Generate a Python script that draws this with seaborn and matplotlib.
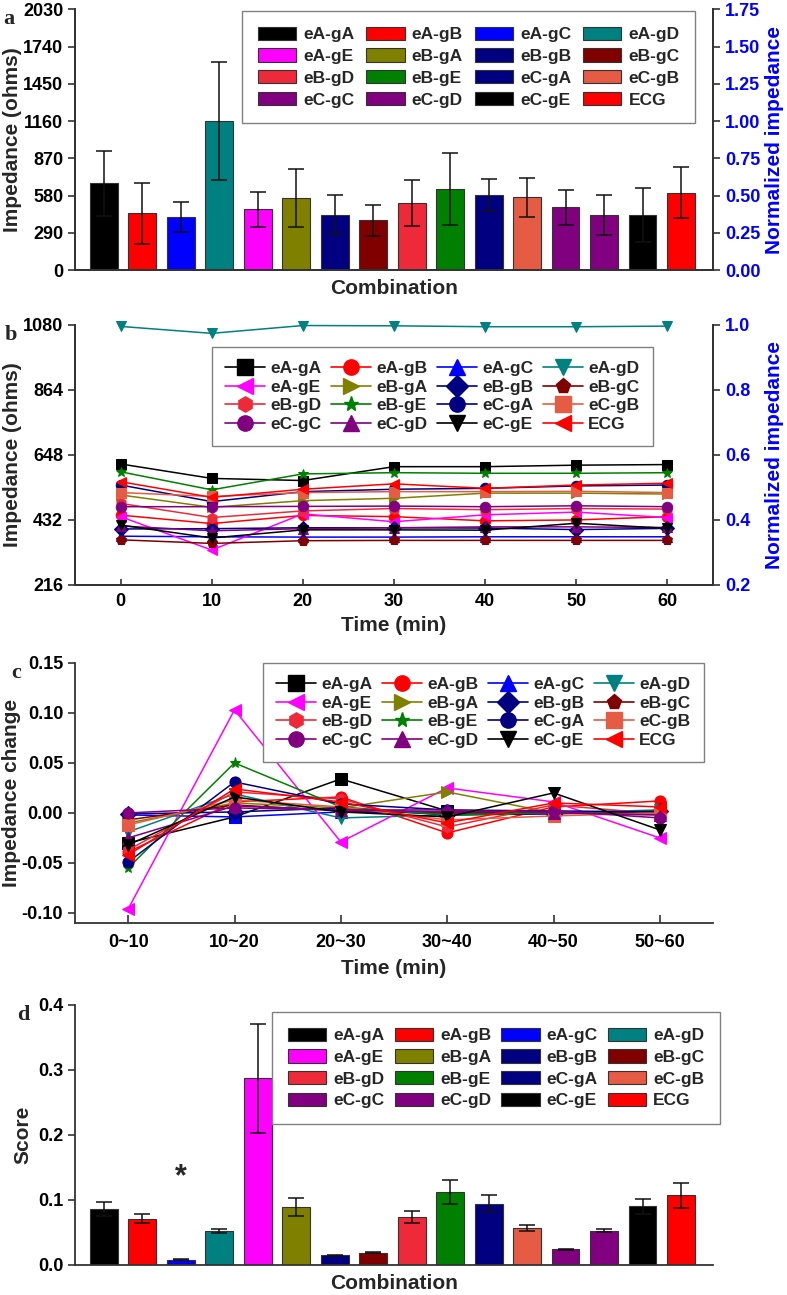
import numpy as np
import pandas as pd
import matplotlib
matplotlib.use("Agg")
import matplotlib.pyplot as plt
from matplotlib.patches import Patch
from matplotlib.lines import Line2D
import seaborn as sns

# ---- data -------------------------------------------------------------
combos = ["eA-gA", "eA-gB", "eA-gC", "eA-gD", "eA-gE", "eB-gA", "eB-gB", "eB-gC",
          "eB-gD", "eB-gE", "eC-gA", "eC-gB", "eC-gC", "eC-gD", "eC-gE", "ECG"]
colors = ["#000000", "#FF0000", "#0000FF", "#008080", "#FF00FF", "#808000", "#000080", "#800000",
          "#EE2A3A", "#008000", "#000080", "#E55B43", "#800080", "#800080", "#000000", "#FF0000"]
markers = ["s", "o", "^", "v", "<", ">", "D", "p", "h", "*", "o", "s", "o", "^", "v", "<"]

# (a) mean impedance and SD
imp_mean = [675, 441, 413, 1163, 472, 561, 431, 387, 524, 633, 582, 566, 488, 431, 428, 602]
imp_err = [254, 239, 120, 460, 139, 228, 150, 120, 179, 280, 125, 150, 135, 155, 208, 200]

# (b) impedance over time
times = [0, 10, 20, 30, 40, 50, 60]
imp_time = [
    [618, 570, 563, 609, 609, 614, 616],
    [448, 420, 447, 443, 429, 432, 443],
    [378, 376, 375, 375, 376, 376, 376],
    [1075, 1052, 1078, 1077, 1074, 1074, 1076],
    [443, 332, 452, 426, 449, 458, 440],
    [515, 474, 496, 504, 521, 521, 518],
    [402, 403, 406, 406, 405, 400, 404],
    [366, 354, 363, 364, 364, 364, 364],
    [487, 440, 462, 470, 466, 470, 468],
    [592, 532, 585, 589, 587, 587, 589],
    [548, 493, 526, 534, 537, 545, 548],
    [523, 510, 523, 526, 526, 527, 523],
    [476, 476, 477, 478, 476, 479, 476],
    [412, 396, 403, 406, 409, 409, 407],
    [415, 372, 399, 399, 398, 421, 404],
    [559, 507, 534, 552, 537, 548, 554],
]

# (c) impedance change per interval
intervals = ["0~10", "10~20", "20~30", "30~40", "40~50", "50~60"]
imp_change = [
    [-0.030, -0.004, 0.034, 0.002, 0.001, 0.000],
    [-0.039, 0.011, 0.016, -0.020, 0.006, 0.012],
    [-0.002, -0.004, 0.001, 0.000, 0.000, 0.000],
    [-0.019, 0.019, -0.005, -0.002, 0.000, 0.003],
    [-0.096, 0.103, -0.029, 0.025, 0.011, -0.025],
    [-0.010, 0.010, 0.005, 0.021, 0.000, -0.002],
    [-0.001, 0.001, 0.005, -0.002, -0.001, 0.002],
    [-0.007, 0.008, 0.002, 0.000, 0.000, 0.000],
    [-0.037, 0.021, 0.014, -0.014, 0.008, -0.001],
    [-0.055, 0.050, 0.006, -0.002, 0.000, 0.002],
    [-0.049, 0.031, 0.009, 0.003, 0.002, 0.001],
    [-0.012, 0.013, 0.006, -0.007, -0.003, 0.000],
    [0.000, 0.005, 0.003, 0.001, 0.002, -0.005],
    [-0.025, 0.007, 0.003, 0.003, 0.000, -0.002],
    [-0.032, 0.016, 0.001, -0.004, 0.020, -0.017],
    [-0.042, 0.024, 0.011, -0.010, 0.010, 0.006],
]

# (d) score
score_mean = [0.086, 0.071, 0.008, 0.052, 0.287, 0.089, 0.015, 0.019,
              0.074, 0.112, 0.094, 0.057, 0.024, 0.053, 0.090, 0.107]
score_err = [0.011, 0.007, 0.001, 0.003, 0.084, 0.014, 0.001, 0.001,
             0.009, 0.018, 0.013, 0.004, 0.001, 0.003, 0.012, 0.019]

# ---- style ------------------------------------------------------------
sns.set_style("ticks")
plt.rcParams["font.family"] = ["Liberation Sans", "DejaVu Sans"]
plt.rcParams["font.weight"] = "bold"
plt.rcParams["axes.labelweight"] = "bold"
plt.rcParams["axes.edgecolor"] = "#333333"
plt.rcParams["axes.linewidth"] = 1.3
plt.rcParams["xtick.color"] = "#333333"
plt.rcParams["ytick.color"] = "#333333"
plt.rcParams["xtick.labelcolor"] = "black"
plt.rcParams["ytick.labelcolor"] = "black"

pal = dict(zip(combos, colors))
mk = dict(zip(combos, markers))
TICK_FS = 13
LABEL_FS = 15
LEG_FS = 12.5
BLUE = "#0000FF"


def row_major(items, ncol=4):
    nrow = int(np.ceil(len(items) / ncol))
    return [items[r * ncol + c] for c in range(ncol) for r in range(nrow)]


def style_legend(leg):
    fr = leg.get_frame()
    fr.set_edgecolor("#808080")
    fr.set_linewidth(1.0)
    fr.set_boxstyle("square", pad=0)


fig = plt.figure(figsize=(7.87, 12.95), dpi=100)
L, W = 0.0953, 0.8107
ax_a = fig.add_axes([L, 0.7915, W, 0.2012])
ax_b = fig.add_axes([L, 0.5483, W, 0.2008])
ax_c = fig.add_axes([L, 0.2873, W, 0.2008])
ax_d = fig.add_axes([L, 0.0232, W, 0.2008])

bar_handles = [Patch(facecolor=c, edgecolor="#333333", linewidth=0.8, label=n)
               for n, c in zip(combos, colors)]
line_handles = [Line2D([], [], color=c, marker=m, markersize=11, linewidth=1.2,
                       markeredgecolor=c, label=n)
                for n, c, m in zip(combos, colors, markers)]

# ---- (a) --------------------------------------------------------------
df_a = pd.DataFrame({"combo": combos, "imp": imp_mean})
sns.barplot(data=df_a, x="combo", y="imp", hue="combo", palette=pal, legend=False,
            width=0.72, saturation=1, edgecolor="#333333", linewidth=0.8, ax=ax_a)
ax_a.errorbar(np.arange(len(combos)), imp_mean, yerr=imp_err, fmt="none",
              ecolor="#111111", elinewidth=1.1, capsize=5.5, capthick=1.1)
ax_a.set_xlim(-0.75, 15.83)
ax_a.set_ylim(0, 2030)
ax_a.set_yticks(np.arange(0, 2031, 290))
ax_a.set_xticks([])
ax_a.set_xlabel("Combination", fontsize=LABEL_FS)
ax_a.xaxis.set_label_coords(0.5, -0.035)
ax_a.set_ylabel("Impedance (ohms)", fontsize=LABEL_FS)
ax_a.yaxis.set_label_coords(-0.083, 0.5)
ax_a.spines["top"].set_visible(False)
ax_a.tick_params(axis="y", direction="out", length=5, width=1.2, labelsize=TICK_FS)
axr_a = ax_a.twinx()
axr_a.set_ylim(0, 1.75)
axr_a.set_yticks(np.arange(0, 1.76, 0.25))
axr_a.set_yticklabels([f"{v:.2f}" for v in np.arange(0, 1.76, 0.25)])
axr_a.tick_params(axis="y", direction="out", length=5, width=1.2,
                  labelsize=TICK_FS, labelcolor=BLUE)
axr_a.set_ylabel("Normalized impedance", fontsize=LABEL_FS, color=BLUE)
axr_a.yaxis.set_label_coords(1.082, 0.5)
axr_a.spines["top"].set_visible(False)
leg = ax_a.legend(handles=row_major(bar_handles), ncol=4, loc="upper right",
                  bbox_to_anchor=(0.972, 0.994), borderaxespad=0, fontsize=LEG_FS,
                  frameon=True, handlelength=2.2, handleheight=0.8, handletextpad=0.4,
                  columnspacing=0.7, labelspacing=0.35, borderpad=0.9,
                  fancybox=False, framealpha=1)
style_legend(leg)
ax_a.text(-0.113, 1.0, "a", transform=ax_a.transAxes, family="Liberation Serif",
          fontsize=16, fontweight="bold", ha="left", va="top")

# ---- (b) --------------------------------------------------------------
df_b = pd.DataFrame([(t, v, n) for n, row in zip(combos, imp_time) for t, v in zip(times, row)],
                    columns=["time", "imp", "combo"])
sns.lineplot(data=df_b, x="time", y="imp", hue="combo", style="combo", palette=pal,
             markers=mk, dashes=False, markersize=7.5, linewidth=1.1,
             markeredgecolor=None, legend=False, sort=False, ax=ax_b)
for ln in ax_b.lines:
    ln.set_markeredgecolor(ln.get_color())
    ln.set_clip_on(False)
ax_b.set_xlim(-5, 65)
ax_b.set_ylim(216, 1080)
ax_b.set_yticks(np.arange(216, 1081, 216))
ax_b.set_xticks(times)
ax_b.set_xlabel("Time (min)", fontsize=LABEL_FS)
ax_b.xaxis.set_label_coords(0.5, -0.12)
ax_b.set_ylabel("Impedance (ohms)", fontsize=LABEL_FS)
ax_b.yaxis.set_label_coords(-0.083, 0.5)
ax_b.spines["top"].set_visible(False)
ax_b.tick_params(axis="y", direction="out", length=5, width=1.2, labelsize=TICK_FS)
ax_b.tick_params(axis="x", direction="in", length=4, width=1.2, labelsize=TICK_FS, pad=6)
axr_b = ax_b.twinx()
axr_b.set_ylim(0.2, 1.0)
axr_b.set_yticks(np.arange(0.2, 1.01, 0.2))
axr_b.set_yticklabels([f"{v:.1f}" for v in np.arange(0.2, 1.01, 0.2)])
axr_b.tick_params(axis="y", direction="out", length=5, width=1.2,
                  labelsize=TICK_FS, labelcolor=BLUE)
axr_b.set_ylabel("Normalized impedance", fontsize=LABEL_FS, color=BLUE)
axr_b.yaxis.set_label_coords(1.082, 0.5)
axr_b.spines["top"].set_visible(False)
leg = ax_b.legend(handles=row_major(line_handles), ncol=4, loc="upper right",
                  bbox_to_anchor=(0.906, 0.915), borderaxespad=0, fontsize=LEG_FS,
                  frameon=True, handlelength=2.3, handletextpad=0.3, columnspacing=0.55,
                  labelspacing=0.2, borderpad=0.8, fancybox=False, framealpha=1)
style_legend(leg)
ax_b.text(-0.11, 1.0, "b", transform=ax_b.transAxes, family="Liberation Serif",
          fontsize=16, fontweight="bold", ha="left", va="top")

# ---- (c) --------------------------------------------------------------
df_c = pd.DataFrame([(i, v, n) for n, row in zip(combos, imp_change) for i, v in enumerate(row)],
                    columns=["interval", "change", "combo"])
sns.lineplot(data=df_c, x="interval", y="change", hue="combo", style="combo", palette=pal,
             markers=mk, dashes=False, markersize=8, linewidth=1.1,
             markeredgecolor=None, legend=False, sort=False, ax=ax_c)
for ln in ax_c.lines:
    ln.set_markeredgecolor(ln.get_color())
    ln.set_clip_on(False)
ax_c.set_xlim(-0.5, 5.5)
ax_c.set_ylim(-0.11, 0.15)
ax_c.set_yticks(np.arange(-0.10, 0.151, 0.05))
ax_c.set_yticklabels([f"{v:.2f}" if abs(v) > 1e-9 else "0.00" for v in np.arange(-0.10, 0.151, 0.05)])
ax_c.set_xticks(range(len(intervals)))
ax_c.set_xticklabels(intervals)
ax_c.set_xlabel("Time (min)", fontsize=LABEL_FS)
ax_c.xaxis.set_label_coords(0.5, -0.14)
ax_c.set_ylabel("Impedance change", fontsize=LABEL_FS)
ax_c.yaxis.set_label_coords(-0.084, 0.5)
sns.despine(ax=ax_c)
ax_c.tick_params(axis="y", direction="out", length=5, width=1.2, labelsize=TICK_FS)
ax_c.tick_params(axis="x", direction="in", length=6, width=1.2, labelsize=TICK_FS, pad=8)
leg = ax_c.legend(handles=row_major(line_handles), ncol=4, loc="upper right",
                  bbox_to_anchor=(0.986, 1.0), borderaxespad=0, fontsize=LEG_FS,
                  frameon=True, handlelength=2.3, handletextpad=0.3, columnspacing=0.55,
                  labelspacing=0.2, borderpad=0.8, fancybox=False, framealpha=1)
style_legend(leg)
ax_c.text(-0.1, 1.0, "c", transform=ax_c.transAxes, family="Liberation Serif",
          fontsize=16, fontweight="bold", ha="left", va="top")

# ---- (d) --------------------------------------------------------------
df_d = pd.DataFrame({"combo": combos, "score": score_mean})
sns.barplot(data=df_d, x="combo", y="score", hue="combo", palette=pal, legend=False,
            width=0.72, saturation=1, edgecolor="#333333", linewidth=0.8, ax=ax_d)
ax_d.errorbar(np.arange(len(combos)), score_mean, yerr=score_err, fmt="none",
              ecolor="#111111", elinewidth=1.1, capsize=5.5, capthick=1.1)
ax_d.text(2, 0.135, "*", ha="center", va="center", fontsize=22, fontweight="bold")
ax_d.set_xlim(-0.75, 15.83)
ax_d.set_ylim(0, 0.4)
ax_d.set_yticks(np.arange(0, 0.41, 0.1))
ax_d.set_yticklabels([f"{v:.1f}" for v in np.arange(0, 0.41, 0.1)])
ax_d.set_xticks([])
ax_d.set_xlabel("Combination", fontsize=LABEL_FS)
ax_d.xaxis.set_label_coords(0.5, -0.035)
ax_d.set_ylabel("Score", fontsize=LABEL_FS)
ax_d.yaxis.set_label_coords(-0.066, 0.5)
sns.despine(ax=ax_d)
ax_d.tick_params(axis="y", direction="out", length=5, width=1.2, labelsize=TICK_FS)
leg = ax_d.legend(handles=row_major(bar_handles), ncol=4, loc="upper right",
                  bbox_to_anchor=(1.011, 0.973), borderaxespad=0, fontsize=LEG_FS,
                  frameon=True, handlelength=2.2, handleheight=0.8, handletextpad=0.4,
                  columnspacing=0.6, labelspacing=0.35, borderpad=0.9,
                  fancybox=False, framealpha=1)
style_legend(leg)
ax_d.text(-0.09, 1.0, "d", transform=ax_d.transAxes, family="Liberation Serif",
          fontsize=16, fontweight="bold", ha="left", va="top")

fig.savefig("out.png", dpi=100)
